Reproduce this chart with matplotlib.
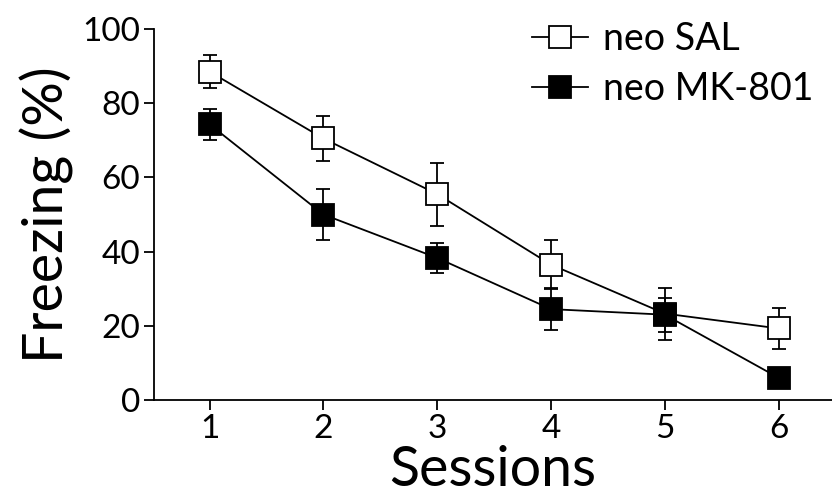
import matplotlib
matplotlib.use("Agg")
import matplotlib.pyplot as plt
from matplotlib.lines import Line2D

plt.rcParams['font.family'] = ['Lato', 'DejaVu Sans']

sessions = [1, 2, 3, 4, 5, 6]
sal_mean = [88.5, 70.5, 55.5, 36.5, 23.3, 19.3]
sal_sem = [4.5, 6.0, 8.5, 6.5, 7.0, 5.6]
mk_mean = [74.3, 50.0, 38.3, 24.5, 23.0, 6.0]
mk_sem = [4.2, 7.0, 4.0, 5.6, 4.6, 0.0]
series_labels = ['neo SAL', 'neo MK-801']
y_ticks = [0, 20, 40, 60, 80, 100]

fig = plt.figure(figsize=(8.32, 5.01), dpi=100)
ax = fig.add_axes([0.185, 0.2016, 0.815, 0.7404])

common = dict(color='black', lw=1.3, marker='s', markersize=16,
              markeredgecolor='black', markeredgewidth=1.3,
              capsize=5, elinewidth=1.3, capthick=1.3)
ax.errorbar(sessions, sal_mean, yerr=sal_sem, markerfacecolor='white',
            zorder=3, **common)
ax.errorbar(sessions, mk_mean, yerr=mk_sem, markerfacecolor='black',
            zorder=4, **common)

ax.set_xlim(0.51, 6.47)
ax.set_ylim(0, 100)
ax.set_xticks(sessions)
ax.set_yticks(y_ticks)
ax.tick_params(labelsize=24, length=7, width=1.3, direction='out', pad=3)
for side in ('top', 'right'):
    ax.spines[side].set_visible(False)
for side in ('left', 'bottom'):
    ax.spines[side].set_linewidth(1.3)

ax.set_xlabel('Sessions', fontsize=40, labelpad=1)
ax.set_ylabel('Freezing (%)', fontsize=40, labelpad=6)

handles = [
    Line2D([], [], color='black', lw=1.3, marker='s', markersize=16,
           markerfacecolor='white', markeredgecolor='black', markeredgewidth=1.3),
    Line2D([], [], color='black', lw=1.3, marker='s', markersize=16,
           markerfacecolor='black', markeredgecolor='black', markeredgewidth=1.3),
]
fig.legend(handles, series_labels, loc='upper left',
           bbox_to_anchor=(0.639, 0.958), bbox_transform=fig.transFigure,
           frameon=False, fontsize=27, handlelength=1.5, handletextpad=0.4,
           labelspacing=0.38, borderpad=0, borderaxespad=0)

fig.savefig('out.png', dpi=100)
